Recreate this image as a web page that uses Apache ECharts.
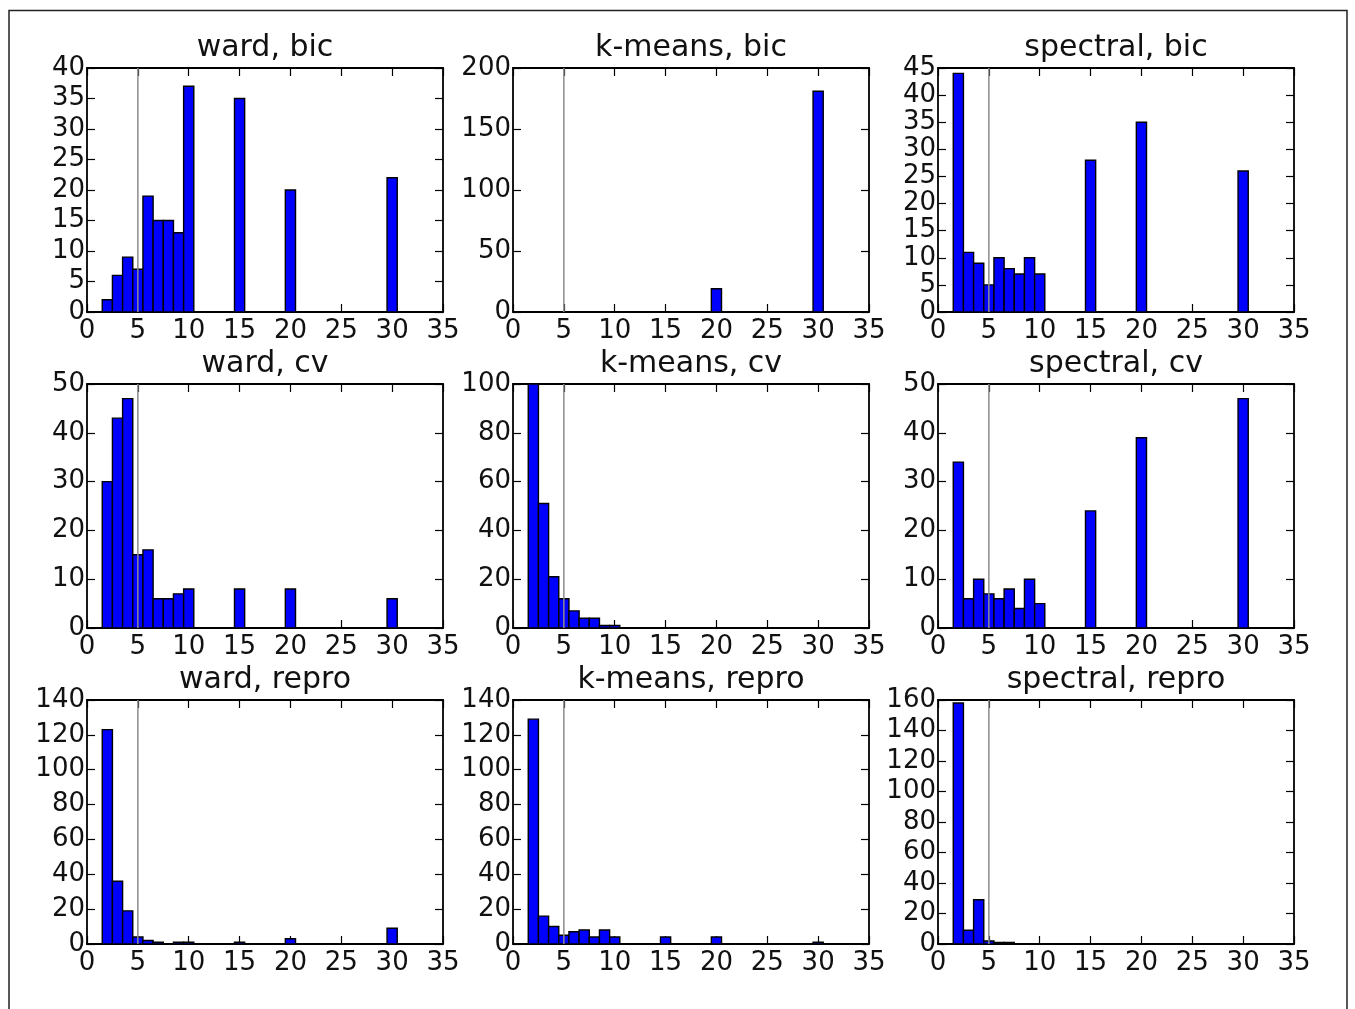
<!DOCTYPE html>
<html>
<head>
<meta charset="utf-8">
<script src="https://cdn.jsdelivr.net/npm/echarts@6/dist/echarts.min.js"></script>
<style>html,body{margin:0;padding:0;background:#fff;}#c{width:1355px;height:1009px;}</style>
</head>
<body>
<div id="c"></div>
<script>
// Bin centres (number of clusters)
const binCenters = [2, 3, 4, 5, 6, 7, 8, 9, 10, 15, 20, 30];
const titles = ['ward, bic', 'k-means, bic', 'spectral, bic',
                'ward, cv', 'k-means, cv', 'spectral, cv',
                'ward, repro', 'k-means, repro', 'spectral, repro'];
// Counts per bin
const wardBic      = [2, 6, 9, 7, 19, 15, 15, 13, 37, 35, 20, 22];
const kmeansBic    = [0, 0, 0, 0, 0, 0, 0, 0, 0, 0, 19, 181];
const spectralBic  = [44, 11, 9, 5, 10, 8, 7, 10, 7, 28, 35, 26];
const wardCv       = [30, 43, 47, 15, 16, 6, 6, 7, 8, 8, 8, 6];
const kmeansCv     = [100, 51, 21, 12, 7, 4, 4, 1, 1, 0, 0, 0];
const spectralCv   = [34, 6, 10, 7, 6, 8, 4, 10, 5, 24, 39, 47];
const wardRepro    = [123, 36, 19, 4, 2, 1, 0, 1, 1, 1, 3, 9];
const kmeansRepro  = [129, 16, 10, 5, 7, 8, 4, 8, 4, 4, 4, 1];
const spectralRepro= [158, 9, 29, 2, 1, 1, 0, 0, 0, 0, 0, 0];
const panelValues = [wardBic, kmeansBic, spectralBic, wardCv, kmeansCv, spectralCv, wardRepro, kmeansRepro, spectralRepro];
// Axis ranges
const xMin = 0, xMax = 35, xStep = 5;
const yMax  = [40, 200, 45, 50, 100, 50, 140, 140, 160];
const yStep = [5, 50, 5, 10, 20, 10, 20, 20, 20];
const refLineX = 5;

const FONT = 'DejaVu Sans';
const colLeft = [87, 513, 938];
const rowTop = [68, 384, 700];
const gw = 356, gh = 244;

const grids = [], xAxes = [], yAxes = [], series = [], titleArr = [];
for (let i = 0; i < 9; i++) {
  const r = Math.floor(i / 3), c = i % 3;
  grids.push({left: colLeft[c], top: rowTop[r], width: gw, height: gh, containLabel: false});
  titleArr.push({
    text: titles[i], left: colLeft[c] + gw / 2, top: rowTop[r] - 35, textAlign: 'center', padding: 0,
    textStyle: {fontFamily: FONT, fontSize: 30, fontWeight: 'normal', color: '#111'}
  });
  const tick = {show: true, inside: true, length: 8, lineStyle: {color: '#000', width: 1.2}};
  const line = {show: true, onZero: false, lineStyle: {color: '#000', width: 1.8}};
  xAxes.push({gridIndex: i, type: 'value', position: 'bottom', min: xMin, max: xMax, interval: xStep,
    axisLine: line, axisTick: tick, splitLine: {show: false},
    axisLabel: {fontFamily: FONT, fontSize: 26, color: '#111', margin: 6, showMinLabel: true, showMaxLabel: true}});
  xAxes.push({gridIndex: i, type: 'value', position: 'top', min: xMin, max: xMax, interval: xStep,
    axisLine: line, axisTick: tick, splitLine: {show: false}, axisLabel: {show: false}});
  yAxes.push({gridIndex: i, type: 'value', position: 'left', min: 0, max: yMax[i], interval: yStep[i],
    axisLine: line, axisTick: tick, splitLine: {show: false},
    axisLabel: {fontFamily: FONT, fontSize: 26, color: '#111', margin: 2, showMinLabel: true, showMaxLabel: true}});
  yAxes.push({gridIndex: i, type: 'value', position: 'right', min: 0, max: yMax[i], interval: yStep[i],
    axisLine: line, axisTick: tick, splitLine: {show: false}, axisLabel: {show: false}});

  const data = binCenters.map((x, k) => [x, panelValues[i][k]]).filter(d => d[1] > 0);
  series.push({
    type: 'custom', xAxisIndex: 2 * i, yAxisIndex: 2 * i, data: data, z: 2,
    renderItem: function (params, api) {
      const x = api.value(0), y = api.value(1);
      const p0 = api.coord([x - 0.5, y]);
      const p1 = api.coord([x + 0.5, 0]);
      return {type: 'rect', shape: {x: p0[0], y: p0[1], width: p1[0] - p0[0], height: p1[1] - p0[1]},
        style: {fill: '#0000ff', stroke: '#000', lineWidth: 1.4}};
    }
  });
  series.push({
    type: 'line', xAxisIndex: 2 * i, yAxisIndex: 2 * i, z: 3, symbol: 'none', silent: true,
    data: [[refLineX, 0], [refLineX, yMax[i]]],
    lineStyle: {color: '#8c8c8c', width: 1.5}
  });
}

const chart = echarts.init(document.getElementById('c'), null, {renderer: 'canvas'});
chart.setOption({
  backgroundColor: '#fff',
  animation: false,
  title: titleArr,
  grid: grids,
  xAxis: xAxes,
  yAxis: yAxes,
  series: series,
  graphic: [{type: 'rect', z: 100, silent: true,
    shape: {x: 9, y: 10.5, width: 1338, height: 1010},
    style: {fill: 'none', stroke: '#222', lineWidth: 1.5}}]
});
</script>
</body>
</html>
